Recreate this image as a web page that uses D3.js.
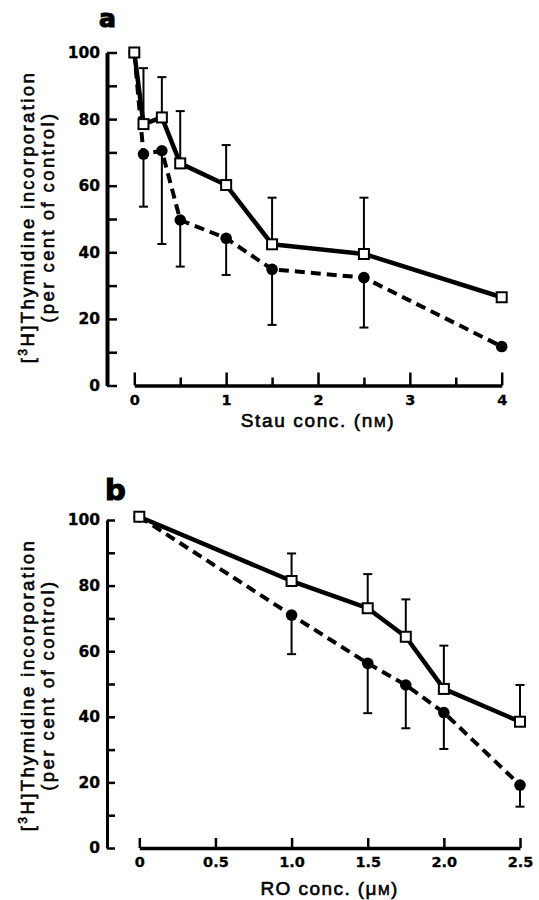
<!DOCTYPE html>
<html>
<head>
<meta charset="utf-8">
<script src="https://cdn.jsdelivr.net/npm/d3@7"></script>
<style>
  body { margin: 0; background: #fff; }
  .tick text { font-family: "DejaVu Sans", sans-serif; font-weight: bold; fill: #000; stroke: #000; stroke-width: 0.3; }
  .title { font-family: "Liberation Sans", Arial, sans-serif; fill: #000; stroke: #000; stroke-width: 0.6; }
</style>
</head>
<body>
<div id="chart"></div>
<script>
// panel a: staurosporine
const stauConc = [0, 0.1, 0.3, 0.5, 1, 1.5, 2.5, 4];
const stauOpen = [100, 78.5, 80.5, 66.7, 60.2, 42.4, 39.5, 26.5];
const stauOpenErr = [0, 16.8, 12.1, 15.7, 12, 14, 16.9, 0];
const stauFilled = [100, 69.5, 70.5, 49.7, 44.2, 34.9, 32.4, 11.7];
const stauFilledErr = [0, 15.8, 28, 14, 11, 16.7, 15, 0];
const stauXTicks = [0, 0.5, 1, 1.5, 2, 2.5, 3, 3.5, 4];

// panel b: RO
const roConc = [0, 1.0, 1.5, 1.75, 2.0, 2.5];
const roOpen = [101, 81.4, 73.1, 64.4, 48.5, 38.5];
const roOpenErr = [0, 8.4, 10.4, 11.4, 13.2, 11.2];
const roFilled = [101, 71.0, 56.3, 49.7, 41.3, 19.2];
const roFilledErr = [0, 11.9, 15.2, 13.2, 11.1, 6.6];
const roXTicks = [0, 0.5, 1.0, 1.5, 2.0, 2.5];

const yTicks = d3.range(0, 101, 10);

const svg = d3.select("#chart").append("svg")
  .attr("width", 539).attr("height", 900);
svg.append("rect").attr("width", 539).attr("height", 900).attr("fill", "#fff");

// stretch a text element to a target length with letter spacing
function fit(sel, target) {
  const node = sel.node();
  const len = node.getComputedTextLength();
  const n = node.textContent.length;
  sel.attr("letter-spacing", (target - len) / (n - 1));
}

function drawPanel(o) {
  const g = svg.append("g");
  const x = d3.scaleLinear().domain(o.xDomain).range(o.xRange);
  const y = d3.scaleLinear().domain([0, 100]).range(o.yRange);

  // y axis: ticks point inward, labels every 20
  const gy = g.append("g")
    .attr("transform", `translate(${o.yAxisX},0)`)
    .call(d3.axisLeft(y).tickValues(yTicks).tickSizeInner(-o.yTick).tickSizeOuter(0)
      .tickPadding(7).tickFormat(d => d % 20 === 0 ? d : ""));
  gy.select(".domain").attr("stroke-width", o.yAxisW);
  gy.selectAll(".tick line").attr("stroke-width", 2.5);
  gy.selectAll(".tick text").attr("font-size", 15.5);

  // x axis: separate baseline, ticks pointing up
  const gx = g.append("g")
    .attr("transform", `translate(0,${y(0)})`)
    .call(d3.axisBottom(x).tickValues(o.xTicks).tickSizeInner(-o.xTick).tickSizeOuter(0)
      .tickPadding(9).tickFormat(o.xFormat));
  gx.select(".domain").attr("stroke-width", 3.5);
  gx.selectAll(".tick line").attr("stroke-width", 2.5)
    .attr("y2", d => o.isMinor(d) ? -o.xMinorTick : -o.xTick);
  gx.selectAll(".tick text").attr("font-size", 14.5);

  // lines
  const line = (xs, ys) => d3.line()(xs.map((d, i) => [x(d), y(ys[i])]));
  g.append("path").attr("d", line(o.conc, o.filled))
    .attr("fill", "none").attr("stroke", "#000").attr("stroke-width", 4)
    .attr("stroke-dasharray", "10,6");
  g.append("path").attr("d", line(o.conc, o.open))
    .attr("fill", "none").attr("stroke", "#000").attr("stroke-width", 4.5)
    .attr("stroke-linejoin", "round");

  // error bars: open squares up, filled circles down
  const bars = [];
  o.conc.forEach((c, i) => {
    if (o.openErr[i] > 0) bars.push([c, o.open[i], o.open[i] + o.openErr[i]]);
    if (o.filledErr[i] > 0) bars.push([c, o.filled[i], o.filled[i] - o.filledErr[i]]);
  });
  const eb = g.append("g").attr("stroke", "#000").attr("stroke-width", 2);
  eb.selectAll(".v").data(bars).join("line")
    .attr("x1", d => x(d[0])).attr("x2", d => x(d[0]))
    .attr("y1", d => y(d[1])).attr("y2", d => y(d[2]));
  eb.selectAll(".c").data(bars).join("line")
    .attr("x1", d => x(d[0]) - 4.5).attr("x2", d => x(d[0]) + 4.5)
    .attr("y1", d => y(d[2])).attr("y2", d => y(d[2]));

  // markers
  g.selectAll(".dot").data(o.conc).join("circle")
    .attr("cx", d => x(d)).attr("cy", (d, i) => y(o.filled[i]))
    .attr("r", 5.8).attr("fill", "#000");
  g.selectAll(".sq").data(o.conc).join("rect")
    .attr("x", d => x(d) - 5).attr("y", (d, i) => y(o.open[i]) - 5)
    .attr("width", 10).attr("height", 10)
    .attr("fill", "#fff").attr("stroke", "#000").attr("stroke-width", 2);

  // panel letter
  g.append("text").attr("x", o.letterX).attr("y", o.letterY)
    .attr("font-family", "DejaVu Sans").attr("font-weight", "bold")
    .attr("stroke", "#000").attr("stroke-width", 1.2)
    .attr("font-size", o.letterSize).text(o.letter);

  // x title
  const xt = g.append("text").attr("class", "title")
    .attr("x", (o.xRange[0] + o.xRange[1]) / 2).attr("y", o.xTitleY)
    .attr("text-anchor", "middle").attr("font-size", 19);
  xt.append("tspan").text(o.xTitle);
  xt.append("tspan").attr("font-size", 14).text("M");
  xt.append("tspan").text(")");
  fit(xt, o.xTitleLen);

  // y title, two rotated lines
  const cy = o.yTitleCenter;
  const t1 = g.append("text").attr("class", "title")
    .attr("transform", `translate(34,${cy}) rotate(-90)`)
    .attr("text-anchor", "middle").attr("font-size", 18.5);
  t1.append("tspan").text("[");
  t1.append("tspan").attr("font-size", 12).attr("dy", -7).text("3");
  t1.append("tspan").attr("dy", 7).text("H]Thymidine incorporation");
  fit(t1, 290);
  const t2 = g.append("text").attr("class", "title")
    .attr("transform", `translate(54,${cy}) rotate(-90)`)
    .attr("text-anchor", "middle").attr("font-size", 18.5)
    .text("(per cent of control)");
  fit(t2, 209);
}

drawPanel({
  conc: stauConc, open: stauOpen, openErr: stauOpenErr,
  filled: stauFilled, filledErr: stauFilledErr,
  xDomain: [0, 4], xRange: [134.3, 501.7], yRange: [385.5, 52.5],
  yAxisX: 107, yAxisW: 4, yTick: 10,
  xTicks: stauXTicks, xTick: 13, xMinorTick: 8,
  isMinor: d => d % 1 !== 0,
  xFormat: d => d % 1 === 0 ? d : "",
  letter: "a", letterX: 99, letterY: 27, letterSize: 25,
  xTitle: "Stau conc. (n", xTitleY: 427, xTitleLen: 153,
  yTitleCenter: 217
});

drawPanel({
  conc: roConc, open: roOpen, openErr: roOpenErr,
  filled: roFilled, filledErr: roFilledErr,
  xDomain: [0, 2.5], xRange: [139.3, 520], yRange: [848, 520],
  yAxisX: 107, yAxisW: 3, yTick: 8,
  xTicks: roXTicks, xTick: 10, xMinorTick: 10,
  isMinor: d => false,
  xFormat: d => d === 0 ? "0" : d3.format(".1f")(d),
  letter: "b", letterX: 105, letterY: 500, letterSize: 29,
  xTitle: "RO conc. (\u03bc", xTitleY: 895, xTitleLen: 137,
  yTitleCenter: 685
});
</script>
</body>
</html>
